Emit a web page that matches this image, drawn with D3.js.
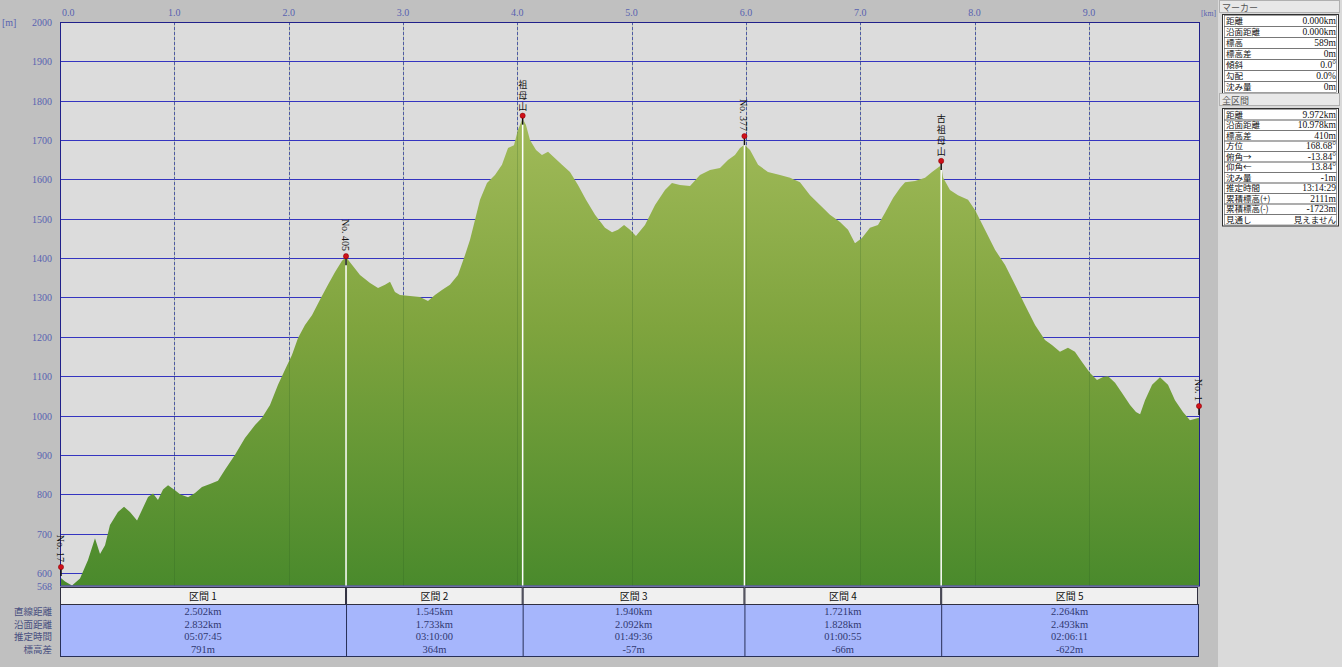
<!DOCTYPE html>
<html><head><meta charset="utf-8">
<script src="https://cdn.jsdelivr.net/npm/d3@7"></script>
<style>
body{margin:0;background:#c0c0c0;overflow:hidden}
svg{display:block}
text{font-family:"Liberation Serif","Noto Sans CJK JP",serif}
.jp{font-family:"Noto Sans CJK JP",sans-serif}
</style></head><body>
<svg id="c" width="1342" height="667"></svg>
<script>
// ---- data ----
const distKm = [0.000,0.044,0.105,0.175,0.245,0.306,0.350,0.394,0.437,0.507,0.560,0.612,0.674,0.717,0.770,0.814,0.857,0.901,0.945,1.006,1.050,1.120,1.181,1.242,1.312,1.382,1.443,1.531,1.618,1.706,1.767,1.837,1.907,1.968,2.029,2.082,2.143,2.204,2.274,2.344,2.406,2.467,2.502,2.554,2.624,2.712,2.782,2.843,2.887,2.930,2.974,3.062,3.149,3.219,3.280,3.341,3.411,3.481,3.543,3.586,3.630,3.674,3.735,3.805,3.866,3.919,3.971,4.006,4.047,4.076,4.111,4.164,4.216,4.269,4.330,4.391,4.461,4.531,4.601,4.680,4.767,4.829,4.881,4.934,4.986,5.038,5.117,5.205,5.292,5.353,5.423,5.511,5.598,5.686,5.773,5.843,5.904,5.948,5.987,6.036,6.106,6.193,6.298,6.386,6.473,6.561,6.648,6.735,6.823,6.893,6.954,7.015,7.085,7.155,7.217,7.287,7.348,7.392,7.479,7.567,7.628,7.708,7.724,7.785,7.855,7.943,8.004,8.091,8.179,8.266,8.354,8.441,8.529,8.616,8.677,8.747,8.817,8.878,8.940,9.010,9.071,9.124,9.168,9.229,9.290,9.360,9.412,9.448,9.491,9.553,9.622,9.692,9.753,9.823,9.884,9.972];
const elevM = [589,578,568,586,633,688,648,670,722,755,768,755,733,760,793,802,785,812,823,810,800,792,803,818,826,834,862,900,943,976,994,1027,1078,1116,1154,1197,1230,1255,1294,1332,1365,1393,1402,1383,1357,1337,1324,1332,1340,1314,1306,1304,1301,1291,1306,1319,1332,1357,1408,1446,1497,1548,1591,1611,1637,1680,1687,1726,1755,1738,1700,1675,1662,1670,1654,1637,1619,1586,1548,1510,1477,1466,1472,1484,1472,1456,1484,1535,1573,1591,1586,1583,1611,1624,1629,1649,1662,1680,1688,1675,1637,1619,1611,1604,1593,1560,1535,1510,1492,1472,1438,1451,1477,1484,1515,1553,1578,1593,1596,1604,1619,1636,1605,1573,1560,1548,1522,1472,1421,1383,1332,1281,1230,1192,1179,1162,1172,1162,1136,1108,1090,1098,1100,1083,1057,1027,1009,1003,1039,1078,1097,1078,1039,1009,988,995];
const xTicks = [0,1,2,3,4,5,6,7,8,9];
const yTicks = [568,600,700,800,900,1000,1100,1200,1300,1400,1500,1600,1700,1800,1900,2000];
const markerKm = [0,2.502,4.047,5.987,7.708,9.972];
const markerElev = [615,1405,1762,1710,1647,1024];
const markerLabel = ["No. 17","No. 405","祖母山","No. 377","古祖母山","No. 1"];
const sectionNames = ["区間 1","区間 2","区間 3","区間 4","区間 5"];
const rowNames = ["直線距離","沿面距離","推定時間","標高差"];
const secStraight = ["2.502km","1.545km","1.940km","1.721km","2.264km"];
const secSurface = ["2.832km","1.733km","2.092km","1.828km","2.493km"];
const secTime = ["05:07:45","03:10:00","01:49:36","01:00:55","02:06:11"];
const secDiff = ["791m","364m","-57m","-66m","-622m"];
const markerRows = [["距離","0.000km"],["沿面距離","0.000km"],["標高","589m"],["標高差","0m"],["傾斜","0.0°"],["勾配","0.0%"],["沈み量","0m"]];
const totalRows = [["距離","9.972km"],["沿面距離","10.978km"],["標高差","410m"],["方位","168.68°"],["俯角→","-13.84°"],["仰角←","13.84°"],["沈み量","-1m"],["推定時間","13:14:29"],["累積標高(+)","2111m"],["累積標高(-)","-1723m"],["見通し","見えません"]];

// ---- drawing ----
const svg = d3.select("#c");
const L=60, R=1200, T=22, B=585.5;
const x = d3.scaleLinear().domain([0,9.972]).range([L,R]);
const y = d3.scaleLinear().domain([568,2000]).range([B,T]);
const pts = distKm.map((d,i)=>[d,elevM[i]]);

svg.append("rect").attr("width",1342).attr("height",667).attr("fill","#c0c0c0");
svg.append("rect").attr("x",L).attr("y",T).attr("width",R-L).attr("height",B-T).attr("fill","#dcdcdc");

// grid
svg.append("g").selectAll("line").data(yTicks.filter(t=>t!==568&&t!==2000)).join("line")
  .attr("x1",L).attr("x2",R).attr("y1",d=>Math.round(y(d))+0.5).attr("y2",d=>Math.round(y(d))+0.5)
  .attr("stroke","#3434c0").attr("stroke-width",1);
svg.append("g").selectAll("line").data(xTicks.filter(t=>t>0)).join("line")
  .attr("x1",d=>Math.round(x(d))+0.5).attr("x2",d=>Math.round(x(d))+0.5).attr("y1",T).attr("y2",B)
  .attr("stroke","#5a5ac8").attr("stroke-dasharray","3,2").attr("stroke-width",1);

// gradient
const defs = svg.append("defs");
const g = defs.append("linearGradient").attr("id","gr").attr("gradientUnits","userSpaceOnUse")
  .attr("x1",0).attr("x2",0).attr("y1",y(1760)).attr("y2",B);
g.append("stop").attr("offset","0%").attr("stop-color","#a2bb5a");
g.append("stop").attr("offset","45%").attr("stop-color","#7fa43e");
g.append("stop").attr("offset","100%").attr("stop-color","#4a8a2c");

const area = d3.area().x(d=>x(d[0])).y0(B).y1(d=>y(d[1])).curve(d3.curveLinear);
svg.append("path").datum(pts).attr("d",area).attr("fill","url(#gr)");

svg.append("g").selectAll("line").data(xTicks.filter(t=>t>0)).join("line")
  .attr("x1",d=>Math.round(x(d))+0.5).attr("x2",d=>Math.round(x(d))+0.5).attr("y1",T).attr("y2",B)
  .attr("stroke","#2a5a20").attr("stroke-opacity",0.22).attr("stroke-width",1);

// frame
svg.append("rect").attr("x",L+0.5).attr("y",T+0.5).attr("width",R-L-1).attr("height",B-T)
  .attr("fill","none").attr("stroke","#20208a").attr("stroke-width",1);

// axes labels
svg.append("g").selectAll("text").data(yTicks).join("text")
  .attr("x",52).attr("y",d=>y(d)+4).attr("text-anchor","end")
  .attr("font-size",10).attr("fill","#5862b0").text(d=>d);
svg.append("g").selectAll("text").data(xTicks).join("text")
  .attr("x",d=>d===0?x(d)+2:x(d)).attr("y",16).attr("text-anchor",d=>d===0?"start":"middle")
  .attr("font-size",10).attr("fill","#5862b0").text(d=>d.toFixed(1));
svg.append("text").attr("x",2).attr("y",26).attr("font-size",10).attr("fill","#5862b0").text("[m]");
svg.append("text").attr("x",1201).attr("y",16).attr("font-size",9).attr("textLength",15)
  .attr("lengthAdjust","spacingAndGlyphs").attr("fill","#5862b0").text("[km]");

// markers
const mk = svg.append("g");
markerKm.forEach((k,i)=>{
  const px = Math.min(Math.max(x(k),L+1),R-1);
  const py = y(markerElev[i]);
  if(i>0 && i<markerKm.length-1){
    mk.append("line").attr("x1",px).attr("x2",px).attr("y1",py+3).attr("y2",B)
      .attr("stroke","#ffffff").attr("stroke-width",1.5);
  }
  mk.append("line").attr("x1",px).attr("x2",px).attr("y1",py).attr("y2",py+9)
    .attr("stroke","#111").attr("stroke-width",1.5);
  mk.append("circle").attr("cx",px).attr("cy",py).attr("r",2.6).attr("fill","#d0101a").attr("stroke","#800000").attr("stroke-width",0.5);
  const lab = markerLabel[i];
  if(/^No/.test(lab)){
    mk.append("text").attr("transform",`translate(${px-4},${py-5}) rotate(90)`)
      .attr("text-anchor","end").attr("font-size",10).attr("fill","#111").text(lab);
  } else {
    const chars = Array.from(lab);
    chars.forEach((c,j)=>{
      mk.append("text").attr("class","jp").attr("x",px).attr("y",py-6-(chars.length-1-j)*11)
        .attr("text-anchor","middle").attr("font-size",9).attr("fill","#111").text(c);
    });
  }
});

// section table
const bounds = markerKm.map(k=>x(k));
bounds[bounds.length-1]=1198;
const tb = svg.append("g");
const hdrY=587, hdrH=17, bodyY=604, bodyH=52;
tb.append("rect").attr("x",L+0.5).attr("y",bodyY+0.5).attr("width",bounds[5]-L).attr("height",bodyH)
  .attr("fill","#a6b6fc").attr("stroke","#283058");
sectionNames.forEach((s,i)=>{
  const x0=bounds[i], x1=bounds[i+1];
  tb.append("rect").attr("x",x0+0.5).attr("y",hdrY+0.5).attr("width",x1-x0-1).attr("height",hdrH)
    .attr("fill","#f0f0f0").attr("stroke","#303040").attr("stroke-width",1);
  tb.append("text").attr("class","jp").attr("x",(x0+x1)/2).attr("y",hdrY+13).attr("text-anchor","middle")
    .attr("font-size",10).attr("fill","#111").text(s);
  if(i>0) tb.append("line").attr("x1",x0+0.5).attr("x2",x0+0.5).attr("y1",bodyY).attr("y2",bodyY+bodyH)
    .attr("stroke","#283058");
  [secStraight,secSurface,secTime,secDiff].forEach((arr,r)=>{
    tb.append("text").attr("x",(x0+x1)/2).attr("y",bodyY+11+r*12.5).attr("text-anchor","middle")
      .attr("font-size",10.5).attr("fill","#303870").text(arr[i]);
  });
});
rowNames.forEach((n,r)=>{
  tb.append("text").attr("class","jp").attr("x",52).attr("y",bodyY+11+r*12.5).attr("text-anchor","end")
    .attr("font-size",9.5).attr("fill","#4a5080").text(n);
});

// right panel
const rp = svg.append("g");
rp.append("rect").attr("x",1218).attr("y",0).attr("width",124).attr("height",667).attr("fill","#dadada");
function panel(title, ty, rows, by, rh){
  rp.append("rect").attr("x",1219.5).attr("y",ty+0.5).attr("width",120).attr("height",12)
    .attr("fill","#e8e8e8").attr("stroke","#b0b0b0");
  rp.append("text").attr("class","jp").attr("x",1222).attr("y",ty+10.5).attr("font-size",9).attr("fill","#555").text(title);
  rp.append("rect").attr("x",1222.5).attr("y",by+0.5).attr("width",116).attr("height",rows.length*rh+2)
    .attr("fill","#ffffff").attr("stroke","#303030");
  rows.forEach((r,i)=>{
    const yy = by+1+i*rh;
    rp.append("rect").attr("x",1224.5).attr("y",yy+0.5).attr("width",112).attr("height",rh)
      .attr("fill","none").attr("stroke","#606060").attr("stroke-width",0.6);
    rp.append("text").attr("class","jp").attr("x",1226).attr("y",yy+rh-2).attr("font-size",8.5).attr("fill","#111").text(r[0]);
    rp.append("text").attr("x",1336).attr("y",yy+rh-2).attr("text-anchor","end").attr("font-size",9.5).attr("fill","#111")
      .attr("class",/[ぁ-ん一-龥]/.test(r[1])?"jp":null)
      .attr("font-size",/[ぁ-ん一-龥]/.test(r[1])?8.5:9.5).text(r[1]);
  });
}
panel("マーカー",0,markerRows,14,11);
panel("全区間",93,totalRows,108,10.5);
</script>
</body></html>
